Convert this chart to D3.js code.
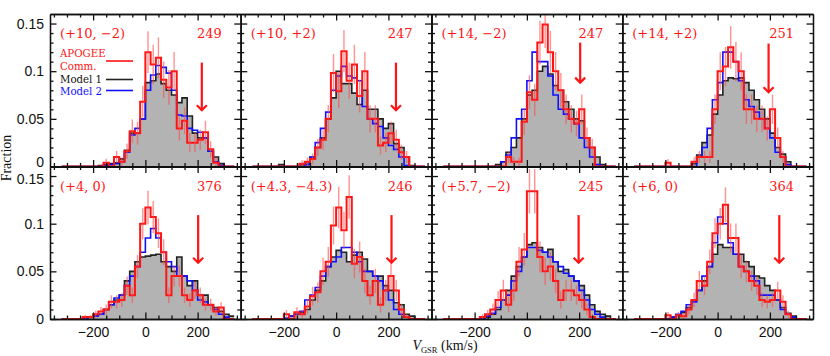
<!DOCTYPE html>
<html>
<head>
<meta charset="utf-8">
<script src="https://cdn.jsdelivr.net/npm/d3@7"></script>
<style>
body { margin: 0; background: #fff; }
svg text { font-family: "Liberation Sans", sans-serif; }
.tick line, .domain { stroke: #111; }
</style>
</head>
<body>
<svg id="chart" width="830" height="356"></svg>
<script>
// bins: 20 km/s wide, left edge of first bin at -320
var binStart = -320;
var binWidth = 20;

var fields = ["(+10, \u22122)", "(+10, +2)", "(+14, \u22122)", "(+14, +2)",
              "(+4, 0)", "(+4.3, \u22124.3)", "(+5.7, \u22122)", "(+6, 0)"];
var counts = [249, 247, 247, 251, 376, 246, 245, 364];

// red arrows: velocity, top and tip (fraction)
var arrowV = [216, 229, 204, 195, 202, 212, 198, 236];
var arrowTop = [0.109, 0.109, 0.130, 0.129, 0.109, 0.109, 0.109, 0.109];
var arrowTip = [0.059, 0.059, 0.088, 0.078, 0.059, 0.059, 0.059, 0.059];

// Model 1 (grey filled)
var model1 = [
  [0,0,0,0,0,0,0,.001,.002,.003,.004,.008,.017,.035,.035,.05,.088,.09,.097,.087,.08,.075,.067,.072,.053,.035,.03,.03,.016,.01,.003,0,0],
  [0,0,0,0,0,.002,0,0,0,.002,.004,.01,.02,.03,.05,.072,.1,.087,.087,.077,.065,.08,.06,.06,.05,.04,.045,.024,.02,.01,.001,0,0],
  [0,0,0,0,0,0,0,0,0,0,.002,.005,.015,.02,.03,.05,.075,.08,.1,.105,.097,.085,.08,.068,.06,.05,.048,.03,.02,.01,.002,0,0],
  [0,0,0,0,0,0,0,0,0,0,0,.003,.012,.025,.033,.055,.075,.09,.093,.092,.093,.088,.08,.07,.06,.05,.035,.02,.013,.005,0,0,0],
  [0,0,0,0,.001,.002,.004,.005,.01,.015,.02,.025,.04,.05,.06,.065,.066,.067,.068,.06,.055,.05,.065,.045,.035,.04,.025,.025,.015,.012,.008,.005,.003],
  [0,0,0,0,0,0,0,.003,.005,.007,.01,.02,.03,.04,.055,.065,.072,.07,.06,.067,.07,.063,.05,.045,.045,.035,.03,.017,.015,.005,.003,0,0],
  [0,0,0,0,0,0,0,0,.002,.005,.01,.02,.03,.045,.055,.065,.078,.08,.075,.07,.073,.06,.05,.052,.045,.04,.035,.025,.015,.008,.005,.003,0],
  [0,0,0,0,0,0,0,.002,.004,.007,.012,.02,.03,.04,.055,.068,.078,.075,.075,.068,.068,.06,.055,.045,.043,.035,.03,.02,.012,.006,.003,0,0]
];

// Model 2 (blue)
var model2 = [
  [0,0,0,0,0,0,0,0,.001,.002,.003,.005,.015,.033,.04,.05,.08,.096,.106,.104,.098,.08,.054,.053,.04,.038,.036,.03,.016,.005,.001,0,0],
  [0,0,0,0,0,0,0,0,0,0,.002,.01,.025,.04,.057,.08,.095,.105,.095,.093,.09,.063,.05,.045,.042,.03,.022,.018,.01,.001,0,0,0],
  [0,0,0,0,0,0,0,0,0,0,0,.005,.012,.03,.05,.06,.09,.12,.11,.11,.095,.075,.06,.055,.05,.045,.03,.02,.01,.002,0,0,0],
  [0,0,0,0,0,0,0,0,0,0,0,0,.01,.02,.04,.07,.088,.12,.12,.11,.09,.07,.063,.057,.05,.04,.03,.015,.01,.002,0,0,0],
  [0,0,0,0,0,.002,.003,.005,.01,.015,.022,.025,.035,.045,.055,.07,.085,.095,.085,.07,.06,.055,.045,.045,.04,.03,.02,.018,.015,.01,.005,.002,0],
  [0,0,0,0,0,0,.001,.003,.005,.008,.02,.025,.033,.045,.055,.06,.065,.075,.075,.07,.06,.05,.05,.045,.04,.03,.02,.01,.005,.002,0,0,0],
  [0,0,0,0,0,0,0,0,.003,.006,.012,.02,.025,.04,.05,.065,.075,.075,.072,.07,.065,.06,.055,.048,.045,.04,.03,.02,.01,.005,.002,0,0],
  [0,0,0,0,0,0,0,.002,.005,.008,.015,.018,.03,.045,.055,.08,.107,.1,.08,.068,.055,.05,.045,.04,.025,.025,.025,.02,.01,.005,.002,0,0]
];

// APOGEE commissioning data (red)
var apogee = [
  [0,0,0,0,0,0,0,0,.004,0,.01,.005,.016,.037,.035,.068,.12,.107,.114,.091,.083,.1,.04,.048,.025,.025,.028,.036,.018,.004,0,0,0],
  [0,0,0,0,0,0,0,0,0,.003,.005,.008,.02,.028,.05,.098,.079,.121,.09,.107,.074,.1,.05,.05,.022,.025,.035,.028,.015,.01,0,0,0],
  [0,0,0,0,0,0,0,0,0,0,0,0,.01,.005,.005,.047,.078,.07,.13,.149,.12,.1,.08,.06,.05,.045,.06,.03,.02,0,0,0,0],
  [0,0,0,0,0,0,.004,0,0,0,0,.005,.01,.01,.01,.06,.1,.105,.125,.11,.1,.06,.06,.05,.05,.04,.06,.03,.01,0,0,0,0],
  [0,0,0,0,.002,.002,.005,.008,.01,.018,.018,.02,.035,.025,.055,.1,.117,.107,.09,.07,.025,.045,.045,.025,.02,.03,.025,.015,.015,.008,.012,0,0],
  [0,0,0,0,0,0,.005,0,.007,.005,.013,.024,.028,.05,.06,.098,.117,.093,.128,.058,.065,.04,.025,.04,.015,.03,.045,.03,.01,.002,0,0,0],
  [0,0,0,0,0,0,0,.002,.005,.01,.02,.03,.015,.03,.06,.073,.134,.134,.065,.05,.055,.04,.02,.03,.03,.025,.02,.01,.002,0,0,0,0],
  [0,0,0,0,0,0,.004,0,.004,.003,.01,.02,.04,.035,.06,.09,.1,.12,.085,.085,.055,.05,.04,.035,.02,.018,.02,.03,.018,.005,0,0,0]
];

var xDomain = [-365, 365];
var yDomain = [0, 0.16];
var xMajor = [-200, 0, 200];
var xMinor = [-350, -300, -250, -150, -100, -50, 50, 100, 150, 250, 300, 350];
var yMajor = [0, 0.05, 0.1, 0.15];
var yMinor = [0.01, 0.02, 0.03, 0.04, 0.06, 0.07, 0.08, 0.09, 0.11, 0.12, 0.13, 0.14];

var svg = d3.select("#chart");
var marginLeft = 50, marginTop = 14;
var panelW = 190.75, panelH = 152.5;
var nCols = 4;
var red = "#ff1414", blue = "#1010ff";

function steps(vals) {
  var pts = vals.map(function(v, i) { return [binStart + i * binWidth, v]; });
  pts.push([binStart + vals.length * binWidth, vals[vals.length - 1]]);
  return pts;
}

fields.forEach(function(label, p) {
  var col = p % nCols, row = Math.floor(p / nCols);
  var x0 = marginLeft + col * panelW, y0 = marginTop + row * panelH;
  var x = d3.scaleLinear().domain(xDomain).range([x0, x0 + panelW]);
  var y = d3.scaleLinear().domain(yDomain).range([y0 + panelH, y0]);
  var g = svg.append("g");

  g.append("clipPath").attr("id", "clip" + p)
    .append("rect").attr("x", x0).attr("y", y0)
    .attr("width", panelW).attr("height", panelH + 1.5);

  var area = d3.area().curve(d3.curveStepAfter)
    .x(function(d) { return x(d[0]); }).y0(y(0)).y1(function(d) { return y(d[1]); });
  var line = d3.line().curve(d3.curveStepAfter)
    .x(function(d) { return x(d[0]); }).y(function(d) { return y(d[1]); });

  var plot = g.append("g").attr("clip-path", "url(#clip" + p + ")");
  plot.append("path").attr("d", area(steps(model1[p]))).attr("fill", "#b3b3b3");

  // axes, ticks pointing inwards on every side
  var showX = row === 1, showY = col === 0;
  var ax = g.append("g").attr("class", "axes");
  ax.append("g").attr("transform", "translate(0," + y(0) + ")")
    .call(d3.axisBottom(x).tickValues(xMajor).tickSize(-6.5).tickSizeOuter(0).tickPadding(8)
      .tickFormat(showX ? d3.format("d") : ""));
  ax.append("g").attr("transform", "translate(0," + y(0) + ")")
    .call(d3.axisBottom(x).tickValues(xMinor).tickSize(-3.5).tickSizeOuter(0).tickFormat(""));
  ax.append("g").attr("transform", "translate(0," + y0 + ")")
    .call(d3.axisTop(x).tickValues(xMajor).tickSize(-6.5).tickSizeOuter(0).tickFormat(""));
  ax.append("g").attr("transform", "translate(0," + y0 + ")")
    .call(d3.axisTop(x).tickValues(xMinor).tickSize(-3.5).tickSizeOuter(0).tickFormat(""));
  var yl = ax.append("g").attr("transform", "translate(" + x0 + ",0)")
    .call(d3.axisLeft(y).tickValues(yMajor).tickSize(-6.5).tickSizeOuter(0).tickPadding(6)
      .tickFormat(showY ? function(d) { return d === 0 ? "0" : String(d); } : ""));
  // the shared row border: lift the lower "0", drop the upper "0.15"
  yl.selectAll(".tick text").attr("dy", function(d) {
    if (row === 0 && d === 0) return "0.0em";
    if (row === 1 && d === 0.15) return "0.5em";
    return "0.32em";
  });
  ax.append("g").attr("transform", "translate(" + x0 + ",0)")
    .call(d3.axisLeft(y).tickValues(yMinor).tickSize(-3.5).tickSizeOuter(0).tickFormat(""));
  ax.append("g").attr("transform", "translate(" + (x0 + panelW) + ",0)")
    .call(d3.axisRight(y).tickValues(yMajor).tickSize(-6.5).tickSizeOuter(0).tickFormat(""));
  ax.append("g").attr("transform", "translate(" + (x0 + panelW) + ",0)")
    .call(d3.axisRight(y).tickValues(yMinor).tickSize(-3.5).tickSizeOuter(0).tickFormat(""));
  ax.selectAll(".domain, .tick line").attr("stroke-width", 1.3);
  ax.selectAll("text").attr("fill", "#111").style("font-size", "14px");

  plot.append("path").attr("d", line(steps(model1[p])))
    .attr("fill", "none").attr("stroke", "#222").attr("stroke-width", 1.6);
  plot.append("path").attr("d", line(steps(model2[p])))
    .attr("fill", "none").attr("stroke", blue).attr("stroke-width", 1.6);
  plot.append("path").attr("d", line(steps(apogee[p])))
    .attr("fill", "none").attr("stroke", red).attr("stroke-width", 2);

  // poisson error bars on the APOGEE histogram
  var n = counts[p];
  plot.selectAll(".err").data(apogee[p].map(function(v, i) { return {v: v, i: i}; })
      .filter(function(d) { return d.v > 0; }))
    .enter().append("line")
    .attr("x1", function(d) { return x(binStart + (d.i + 0.5) * binWidth); })
    .attr("x2", function(d) { return x(binStart + (d.i + 0.5) * binWidth); })
    .attr("y1", function(d) { return y(d.v + Math.sqrt(d.v / n)); })
    .attr("y2", function(d) { return y(Math.max(0, d.v - Math.sqrt(d.v / n))); })
    .attr("stroke", "#ff4a4a").attr("stroke-opacity", 0.6).attr("stroke-width", 1.4);

  // arrow
  var ax0 = x(arrowV[p]), tip = y(arrowTip[p]);
  g.append("line").attr("x1", ax0).attr("x2", ax0).attr("y1", y(arrowTop[p])).attr("y2", tip)
    .attr("stroke", red).attr("stroke-width", 2.2);
  g.append("path").attr("d", "M" + (ax0 - 5) + "," + (tip - 5) + "L" + ax0 + "," + tip + "L" + (ax0 + 5) + "," + (tip - 5))
    .attr("fill", "none").attr("stroke", red).attr("stroke-width", 2.2);

  // labels
  g.append("text").attr("x", x0 + 10).attr("y", y0 + 24)
    .attr("fill", red).style("font-family", "DejaVu Serif").style("font-size", "13px").text(label);
  g.append("text").attr("x", x0 + panelW - 19).attr("y", y0 + 24).attr("text-anchor", "end")
    .attr("fill", red).style("font-family", "DejaVu Serif").style("font-size", "13px").text(counts[p]);
});

// legend in the first panel
var legendRows = [
  {text: "APOGEE", color: red, ty: 57},
  {text: "Comm.", color: red, ty: 69.5, line: 61},
  {text: "Model 1", color: "#111", ty: 82.5, line: 79.5},
  {text: "Model 2", color: blue, ty: 94.5, line: 90.5}
];
legendRows.forEach(function(r) {
  svg.append("text").attr("x", 60).attr("y", r.ty).attr("fill", r.color)
    .style("font-family", "DejaVu Serif").style("font-size", "10.2px").text(r.text);
  if (r.line) {
    svg.append("line").attr("x1", 106).attr("x2", 133).attr("y1", r.line).attr("y2", r.line)
      .attr("stroke", r.color === "#111" ? "#222" : r.color).attr("stroke-width", 1.6);
  }
});

// axis titles
var xt = svg.append("text").attr("x", 445).attr("y", 350).attr("text-anchor", "middle")
  .style("font-family", "Liberation Serif").style("font-size", "14px").attr("fill", "#111");
xt.append("tspan").style("font-style", "italic").text("V");
xt.append("tspan").attr("dy", 3).style("font-size", "8.5px").text("GSR");
xt.append("tspan").attr("dy", -3).text(" (km/s)");

svg.append("text").attr("transform", "translate(11,158) rotate(-90)").attr("text-anchor", "middle")
  .style("font-family", "Liberation Serif").style("font-size", "14px").attr("fill", "#111").text("Fraction");
</script>
</body>
</html>
